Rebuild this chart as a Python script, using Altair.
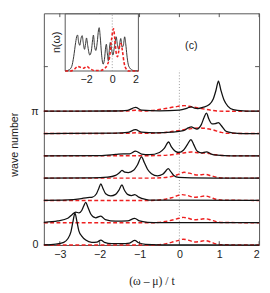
import altair as alt
import pandas as pd

# ---------------- axis limits / ticks ----------------
XMIN, XMAX = -3.4, 2.0
YMAX = 10.39
IXMIN, IXMAX = -3.6, 2.0
x_ticks = [-3, -2, -1, 0, 1, 2]
y_label_vals = [0, 6]
y_tick_vals = [0, 1, 2, 3, 4, 5, 6, 8]
inset_x_ticks = [-2, 0, 2]

# ---------------- spectra (x, height above own baseline) ----------------
black_0 = [(-3.4, 0.01), (-3.1, 0.04), (-2.9, 0.12), (-2.8, 0.28), (-2.72, 0.6), (-2.67, 1.05),
           (-2.62, 1.43), (-2.57, 1.05), (-2.52, 0.62), (-2.45, 0.4), (-2.35, 0.22), (-2.2, 0.12),
           (-2.07, 0.13), (-1.97, 0.22), (-1.88, 0.12), (-1.7, 0.06), (-1.45, 0.06), (-1.25, 0.09),
           (-1.12, 0.21), (-1.02, 0.1), (-0.85, 0.03), (-0.5, 0.01), (2.0, 0.0)]
black_1 = [(-3.4, 0.02), (-3.05, 0.08), (-2.8, 0.2), (-2.7, 0.35), (-2.6, 0.48), (-2.52, 0.44),
           (-2.45, 0.55), (-2.4, 0.75), (-2.35, 0.91), (-2.3, 0.72), (-2.22, 0.38), (-2.1, 0.22),
           (-1.97, 0.3), (-1.86, 0.14), (-1.6, 0.07), (-1.3, 0.08), (-1.12, 0.2), (-1.0, 0.08),
           (-0.8, 0.02), (-0.5, 0.0), (2.0, 0.0)]
black_2 = [(-3.4, 0.0), (-2.8, 0.02), (-2.5, 0.07), (-2.3, 0.13), (-2.18, 0.15), (-2.08, 0.3),
           (-2.02, 0.55), (-1.97, 0.74), (-1.92, 0.55), (-1.85, 0.3), (-1.72, 0.2), (-1.6, 0.27),
           (-1.52, 0.45), (-1.44, 0.7), (-1.39, 0.5), (-1.3, 0.27), (-1.2, 0.22), (-1.12, 0.26),
           (-1.02, 0.15), (-0.85, 0.05), (-0.7, 0.01), (2.0, 0.0)]
black_3 = [(-3.4, 0.0), (-2.2, 0.01), (-1.8, 0.04), (-1.6, 0.12), (-1.5, 0.25), (-1.44, 0.35),
           (-1.37, 0.27), (-1.28, 0.25), (-1.15, 0.35), (-1.05, 0.6), (-0.95, 0.95), (-0.88, 0.7),
           (-0.8, 0.4), (-0.7, 0.2), (-0.55, 0.1), (-0.42, 0.17), (-0.34, 0.32), (-0.28, 0.43),
           (-0.22, 0.3), (-0.14, 0.12), (-0.02, 0.03), (0.3, 0.01), (2.0, 0.0)]
black_4 = [(-3.4, 0.0), (-2.0, 0.01), (-1.6, 0.06), (-1.4, 0.09), (-1.25, 0.09), (-1.1, 0.21),
           (-0.95, 0.08), (-0.75, 0.05), (-0.5, 0.15), (-0.38, 0.33), (-0.27, 0.62), (-0.2, 0.4),
           (-0.1, 0.2), (0.0, 0.15), (0.1, 0.25), (0.2, 0.5), (0.29, 0.73), (0.36, 0.5),
           (0.45, 0.2), (0.55, 0.13), (0.68, 0.18), (0.8, 0.08), (0.95, 0.03), (1.3, 0.0), (2.0, 0.0)]
black_5 = [(-3.4, 0.0), (-1.6, 0.02), (-1.3, 0.05), (-1.1, 0.17), (-0.95, 0.06), (-0.6, 0.03),
           (-0.2, 0.06), (0.1, 0.13), (0.22, 0.25), (0.3, 0.3), (0.37, 0.24), (0.44, 0.2),
           (0.55, 0.4), (0.62, 0.72), (0.68, 0.91), (0.74, 0.65), (0.82, 0.43), (0.9, 0.44),
           (0.98, 0.49), (1.05, 0.36), (1.17, 0.1), (1.33, 0.03), (1.6, 0.0), (2.0, 0.0)]
black_6 = [(-3.4, 0.0), (-1.6, 0.01), (-1.3, 0.04), (-1.1, 0.17), (-0.95, 0.05), (-0.5, 0.02),
           (0.0, 0.05), (0.2, 0.14), (0.3, 0.2), (0.38, 0.14), (0.46, 0.12), (0.6, 0.18),
           (0.75, 0.3), (0.85, 0.55), (0.92, 0.95), (0.98, 1.35), (1.04, 0.95), (1.12, 0.5),
           (1.22, 0.22), (1.35, 0.07), (1.6, 0.02), (2.0, 0.0)]

red_0 = [(-3.4, 0.0), (-0.7, 0.0), (-0.4, 0.04), (-0.2, 0.12), (0.0, 0.22), (0.1, 0.26), (0.22, 0.22),
         (0.38, 0.14), (0.52, 0.16), (0.65, 0.2), (0.78, 0.14), (0.92, 0.05), (1.1, 0.01), (2.0, 0.0)]
red_1 = [(-3.4, 0.0), (-0.7, 0.0), (-0.4, 0.04), (-0.2, 0.11), (0.0, 0.2), (0.1, 0.24), (0.22, 0.2),
         (0.38, 0.13), (0.52, 0.15), (0.65, 0.18), (0.78, 0.13), (0.92, 0.05), (1.1, 0.01), (2.0, 0.0)]
red_2 = [(-3.4, 0.0), (-0.7, 0.0), (-0.4, 0.04), (-0.2, 0.12), (-0.02, 0.23), (0.07, 0.26), (0.2, 0.22),
         (0.38, 0.14), (0.52, 0.17), (0.65, 0.2), (0.78, 0.14), (0.92, 0.05), (1.1, 0.01), (2.0, 0.0)]
red_3 = [(-3.4, 0.0), (-0.7, 0.0), (-0.3, 0.04), (-0.05, 0.15), (0.12, 0.26), (0.3, 0.2), (0.45, 0.14),
         (0.65, 0.17), (0.8, 0.1), (1.0, 0.02), (1.2, 0.0), (2.0, 0.0)]
red_4 = [(-3.4, 0.0), (-1.0, 0.0), (-0.4, 0.02), (-0.1, 0.07), (0.1, 0.13), (0.3, 0.17), (0.5, 0.13),
         (0.7, 0.12), (0.9, 0.05), (1.1, 0.01), (2.0, 0.0)]
red_5 = [(-3.4, 0.0), (-1.3, 0.01), (-1.1, 0.03), (-0.9, 0.01), (-0.4, 0.04), (0.0, 0.14), (0.3, 0.22),
         (0.5, 0.25), (0.65, 0.23), (0.85, 0.16), (1.05, 0.05), (1.2, 0.01), (2.0, 0.0)]
red_6 = [(-3.4, 0.0), (-1.3, 0.01), (-1.1, 0.04), (-0.9, 0.01), (-0.7, 0.03), (-0.35, 0.12), (-0.1, 0.2),
         (0.12, 0.25), (0.3, 0.2), (0.55, 0.12), (0.85, 0.03), (1.1, 0.0), (2.0, 0.0)]

# ---------------- inset n(omega) ----------------
inset_black = [(-3.6, 0.0), (-3.3, 0.02), (-3.1, 0.08), (-2.95, 0.25), (-2.8, 0.5), (-2.7, 0.62),
               (-2.65, 0.63), (-2.58, 0.52), (-2.48, 0.45), (-2.38, 0.58), (-2.3, 0.62), (-2.22, 0.5),
               (-2.12, 0.38), (-2.04, 0.48), (-1.97, 0.58), (-1.88, 0.45), (-1.72, 0.28), (-1.6, 0.35),
               (-1.5, 0.55), (-1.44, 0.63), (-1.36, 0.45), (-1.26, 0.36), (-1.15, 0.5), (-1.05, 0.72),
               (-1.0, 0.76), (-0.92, 0.6), (-0.82, 0.3), (-0.7, 0.12), (-0.6, 0.2), (-0.5, 0.42),
               (-0.45, 0.47), (-0.38, 0.32), (-0.3, 0.18), (-0.22, 0.38), (-0.15, 0.5), (-0.08, 0.42),
               (0.05, 0.28), (0.18, 0.45), (0.3, 0.6), (0.4, 0.45), (0.5, 0.38), (0.58, 0.5),
               (0.65, 0.57), (0.75, 0.42), (0.85, 0.45), (0.95, 0.6), (1.03, 0.48), (1.12, 0.28),
               (1.22, 0.12), (1.35, 0.05), (1.6, 0.01), (2.0, 0.0)]
inset_red = [(-3.6, 0.0), (-3.2, 0.0), (-2.9, 0.03), (-2.65, 0.08), (-2.4, 0.06), (-2.2, 0.05),
             (-1.95, 0.08), (-1.7, 0.04), (-1.4, 0.01), (-0.9, 0.01), (-0.6, 0.04), (-0.4, 0.1),
             (-0.2, 0.25), (-0.08, 0.5), (0.02, 0.68), (0.1, 0.74), (0.2, 0.55), (0.3, 0.32),
             (0.4, 0.25), (0.5, 0.35), (0.6, 0.47), (0.67, 0.48), (0.78, 0.35), (0.9, 0.15),
             (1.05, 0.04), (1.25, 0.0), (2.0, 0.0)]

label_text = "(c)"
label_pos = (0.3, 8.9)
dotted_top = 7.83

# ---------------- tables ----------------
blacks = [black_0, black_1, black_2, black_3, black_4, black_5, black_6]
reds = [red_0, red_1, red_2, red_3, red_4, red_5, red_6]

def stack(curves):
    rows = []
    for k, c in enumerate(curves):
        for x, h in c:
            rows.append({"k": k, "x": x, "y": k + h})
    return pd.DataFrame(rows)

df_black = stack(blacks)
df_red = stack(reds)
df_ib = pd.DataFrame(inset_black, columns=["x", "y"])
df_ir = pd.DataFrame(inset_red, columns=["x", "y"])
df_yt = pd.DataFrame({"y": y_tick_vals})
df_xt = pd.DataFrame({"x": x_ticks})
df_lab = pd.DataFrame({"x": [label_pos[0]], "y": [label_pos[1]], "t": [label_text]})
one = pd.DataFrame({"a": [0]})

FRAME = "#555555"
RED = "#ee2020"
BLACK = "#111111"

# ---------------- main panel ----------------
mx = alt.Scale(domain=[XMIN, XMAX], nice=False, zero=False)
my = alt.Scale(domain=[0, YMAX], nice=False, zero=False)
X_AX = alt.Axis(values=x_ticks, title="(ω – μ) / t", domain=False, ticks=False, grid=False,
                labelPadding=4, labelFontSize=11, titleFont="Liberation Serif", titleFontSize=12,
                titleFontWeight="normal", titleY=37, titleBaseline="middle")
Y_AX = alt.Axis(values=y_label_vals, labelExpr="datum.value == 0 ? '0' : 'π'", title="wave number",
                domain=False, ticks=False, grid=False, labelPadding=6, labelFontSize=11,
                titleX=-30, titleY=135, titleBaseline="middle", titleAngle=270,
                titleFontWeight="normal", titleFontSize=11)

def MX(f):
    return alt.X(f, type="quantitative", scale=mx, axis=X_AX)

def MY(f):
    return alt.Y(f, type="quantitative", scale=my, axis=Y_AX)

tick_left = alt.Chart(df_yt).mark_rule(color=FRAME, strokeWidth=1).encode(
    x=alt.XDatum(XMIN, type="quantitative", scale=mx, axis=X_AX), x2=alt.X2Datum(XMIN + 0.1), y=MY("y"))
tick_right = alt.Chart(df_yt).mark_rule(color=FRAME, strokeWidth=1).encode(
    x=alt.XDatum(XMAX - 0.1, type="quantitative", scale=mx, axis=X_AX), x2=alt.X2Datum(XMAX), y=MY("y"))
tick_bottom = alt.Chart(df_xt).mark_rule(color=FRAME, strokeWidth=1).encode(
    x=MX("x"), y=alt.YDatum(0, type="quantitative", scale=my, axis=Y_AX), y2=alt.Y2Datum(0.17))
tick_top = alt.Chart(df_xt).mark_rule(color=FRAME, strokeWidth=1).encode(
    x=MX("x"), y=alt.YDatum(YMAX - 0.17, type="quantitative", scale=my, axis=Y_AX), y2=alt.Y2Datum(YMAX))

dotted = alt.Chart(one).mark_rule(color="#999999", strokeWidth=1, strokeDash=[1, 2]).encode(
    x=alt.XDatum(0, type="quantitative", scale=mx, axis=X_AX),
    y=alt.YDatum(0, type="quantitative", scale=my, axis=Y_AX), y2=alt.Y2Datum(dotted_top))

red_lines = alt.Chart(df_red).mark_line(color=RED, strokeWidth=1.5, strokeDash=[4, 2.5],
                                        interpolate="monotone").encode(
    x=MX("x"), y=MY("y"), detail="k:N")
black_lines = alt.Chart(df_black).mark_line(color=BLACK, strokeWidth=1.3, interpolate="monotone").encode(
    x=MX("x"), y=MY("y"), detail="k:N")
label = alt.Chart(df_lab).mark_text(font="Liberation Sans", fontSize=11, color="#222222").encode(
    x=MX("x"), y=MY("y"), text="t:N")

main = alt.layer(tick_left, tick_right, tick_bottom, tick_top, dotted, red_lines, black_lines, label)

# ---------------- inset ----------------
ix = alt.Scale(domain=[IXMIN, IXMAX], range=[22, 97.5], nice=False, zero=False)
iy = alt.Scale(domain=[0, 1], range=[59.5, 0.7], nice=False, zero=False)
IX_AX = alt.Axis(values=inset_x_ticks, orient="bottom", offset=-179.5, title=None, domain=False,
                 ticks=False, grid=False, labelPadding=3, labelFontSize=11)
IY_AX = alt.Axis(orient="left", offset=-22, labels=False, ticks=False, domain=False, grid=False,
                 title="n(ω)", titleX=-4, titleY=29.5, titleBaseline="bottom", titleAngle=270,
                 titleFontWeight="normal", titleFontSize=11)

def IX(f):
    return alt.X(f, type="quantitative", scale=ix, axis=IX_AX)

def IY(f):
    return alt.Y(f, type="quantitative", scale=iy, axis=IY_AX)

box = alt.Chart(one).mark_rect(fill="white", stroke=FRAME, strokeWidth=1).encode(
    x=alt.XDatum(IXMIN, type="quantitative", scale=ix, axis=IX_AX), x2=alt.X2Datum(IXMAX),
    y=alt.YDatum(0, type="quantitative", scale=iy, axis=IY_AX), y2=alt.Y2Datum(1))
idotted = alt.Chart(one).mark_rule(color="#999999", strokeWidth=1, strokeDash=[1, 2]).encode(
    x=alt.XDatum(0, type="quantitative", scale=ix, axis=IX_AX),
    y=alt.YDatum(0, type="quantitative", scale=iy, axis=IY_AX), y2=alt.Y2Datum(1))
ired = alt.Chart(df_ir).mark_line(color=RED, strokeWidth=1.6, strokeDash=[3, 2],
                                  interpolate="monotone").encode(x=IX("x"), y=IY("y"))
iblack = alt.Chart(df_ib).mark_line(color="#333333", strokeWidth=1, interpolate="monotone").encode(
    x=IX("x"), y=IY("y"))

inset = alt.layer(box, idotted, iblack, ired)

chart = alt.layer(main, inset).resolve_scale(x="independent", y="independent").properties(
    width=222, height=239,
    padding={"left": 37, "top": 1, "right": 3, "bottom": 45},
    autosize=alt.AutoSizeParams(type="none"),
).configure_view(stroke=FRAME, strokeWidth=1).configure_axis(
    labelFont="Liberation Sans", titleFont="Liberation Sans", labelColor="#222222", titleColor="#222222"
)

chart.save("out.html", embed_options={"renderer": "svg", "actions": False})
